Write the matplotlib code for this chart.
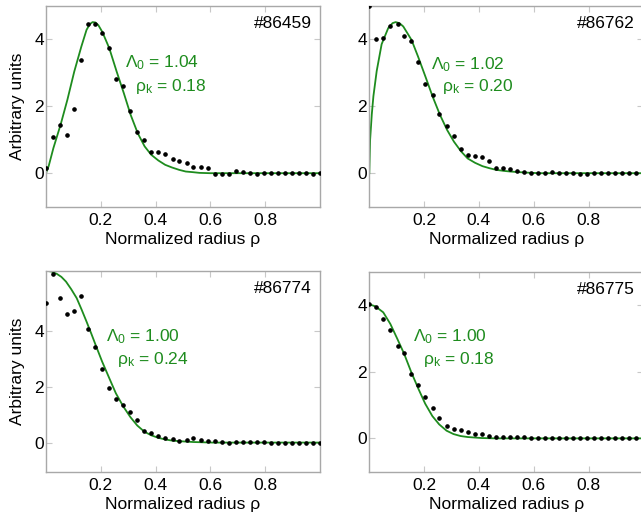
import matplotlib
matplotlib.use("Agg")
import matplotlib.pyplot as plt

plt.rcParams['font.family'] = ['Liberation Sans', 'DejaVu Sans']
plt.rcParams['mathtext.fontset'] = 'custom'
plt.rcParams['mathtext.rm'] = 'Liberation Sans'
plt.rcParams['mathtext.it'] = 'Liberation Sans'

# radial grid of the measured points
rho = [0.000, 0.026, 0.051, 0.077, 0.103, 0.128, 0.154, 0.179, 0.205, 0.231,
       0.256, 0.282, 0.308, 0.333, 0.359, 0.385, 0.410, 0.436, 0.462, 0.487,
       0.513, 0.538, 0.564, 0.590, 0.615, 0.641, 0.667, 0.692, 0.718, 0.744,
       0.769, 0.795, 0.821, 0.846, 0.872, 0.897, 0.923, 0.949, 0.974, 1.000]

# measured profiles
data_86459 = [0.15, 1.07, 1.44, 1.13, 1.93, 3.37, 4.46, 4.46, 4.19, 3.73,
              2.81, 2.61, 1.87, 1.24, 0.98, 0.64, 0.64, 0.57, 0.43, 0.37,
              0.30, 0.20, 0.18, 0.15, -0.01, -0.02, -0.02, 0.06, 0.03, 0.01,
              -0.02, 0.01, 0.01, 0.00, 0.00, 0.00, 0.00, 0.00, -0.01, 0.00]
data_86762 = [4.98, 4.01, 4.03, 4.40, 4.46, 4.09, 3.94, 3.33, 2.67, 2.32,
              1.77, 1.41, 1.12, 0.73, 0.55, 0.52, 0.47, 0.37, 0.17, 0.15,
              0.12, 0.07, 0.03, 0.02, 0.02, 0.02, 0.04, 0.02, 0.02, 0.02,
              -0.02, -0.02, 0.00, 0.00, 0.01, 0.01, 0.01, 0.01, 0.01, 0.00]
data_86774 = [5.00, 6.02, 5.18, 4.59, 4.70, 5.25, 4.06, 3.43, 2.63, 1.94,
              1.57, 1.36, 1.11, 0.79, 0.42, 0.35, 0.23, 0.18, 0.14, 0.04,
              0.08, 0.16, 0.09, 0.05, 0.04, 0.01, 0.00, 0.01, 0.02, 0.01,
              0.02, 0.01, 0.00, -0.01, -0.02, -0.01, 0.00, -0.01, -0.01, 0.00]
data_86775 = [4.02, 3.95, 3.58, 3.26, 2.76, 2.56, 1.92, 1.61, 1.25, 0.91,
              0.62, 0.38, 0.28, 0.24, 0.20, 0.13, 0.13, 0.07, 0.05, 0.05,
              0.04, 0.03, 0.03, 0.01, 0.00, 0.00, 0.00, 0.00, 0.00, 0.00,
              0.00, 0.00, 0.00, 0.00, 0.00, 0.00, 0.00, 0.00, 0.00, 0.00]

# fitted curves
fit_x_86459 = [0.0, 0.01, 0.027, 0.053, 0.078, 0.103, 0.129, 0.148, 0.16, 0.17,
               0.18, 0.191, 0.206, 0.231, 0.258, 0.284, 0.309, 0.335, 0.36, 0.384,
               0.41, 0.435, 0.46, 0.486, 0.51, 0.537, 0.56, 0.6, 1.0]
fit_y_86459 = [0.0, 0.22, 0.75, 1.44, 2.19, 3.03, 3.78, 4.28, 4.45, 4.51,
               4.50, 4.42, 4.21, 3.73, 3.03, 2.39, 1.74, 1.19, 0.80, 0.55,
               0.38, 0.25, 0.17, 0.10, 0.05, 0.03, 0.01, 0.0, 0.0]
fit_x_86762 = [0.0, 0.003, 0.009, 0.015, 0.027, 0.045, 0.069, 0.085, 0.096, 0.11,
               0.124, 0.154, 0.178, 0.205, 0.231, 0.258, 0.284, 0.309, 0.335, 0.359,
               0.386, 0.413, 0.438, 0.463, 0.49, 0.514, 0.568, 0.62, 1.0]
fit_y_86762 = [0.0, 1.0, 1.75, 2.3, 3.05, 3.85, 4.33, 4.48, 4.51, 4.48,
               4.38, 3.98, 3.48, 2.88, 2.29, 1.74, 1.29, 0.94, 0.65, 0.44,
               0.31, 0.21, 0.15, 0.10, 0.07, 0.05, 0.02, 0.0, 0.0]
fit_x_86774 = [0.0, 0.02, 0.039, 0.056, 0.073, 0.092, 0.112, 0.13, 0.148, 0.165,
               0.181, 0.205, 0.231, 0.255, 0.282, 0.308, 0.333, 0.359, 0.384, 0.41,
               0.436, 0.461, 0.487, 0.538, 0.61, 1.0]
fit_y_86774 = [6.14, 6.11, 6.03, 5.92, 5.75, 5.48, 5.16, 4.75, 4.32, 3.90,
               3.49, 2.89, 2.30, 1.76, 1.29, 0.91, 0.61, 0.39, 0.26, 0.17,
               0.11, 0.07, 0.05, 0.02, 0.0, 0.0]
fit_x_86775 = [0.0, 0.012, 0.024, 0.051, 0.077, 0.102, 0.127, 0.153, 0.179, 0.204,
               0.23, 0.255, 0.282, 0.307, 0.333, 0.359, 0.41, 0.46, 1.0]
fit_y_86775 = [4.01, 3.99, 3.95, 3.78, 3.43, 2.99, 2.54, 1.99, 1.49, 1.04,
               0.67, 0.42, 0.23, 0.13, 0.07, 0.04, 0.01, 0.0, 0.0]

shots = ['#86459', '#86762', '#86774', '#86775']
lambda0 = ['1.04', '1.02', '1.00', '1.00']
rho_k = ['0.18', '0.20', '0.24', '0.18']

green = '#1e8c1e'
frame = '#a8a8a8'

fig = plt.figure(figsize=(6.41, 5.19), dpi=100)
W, H = 641, 519
boxes = [(46, 5.7, 274, 201), (369.3, 5.7, 274, 201),
         (46, 270.7, 274, 201), (369.3, 271.7, 274, 200)]
ylims = [(-1, 5), (-1, 5), (-1.04, 6.14), (-1, 5)]
text_pos = [(0.288, 0.715, 0.325, 0.596), (0.225, 0.708, 0.264, 0.600),
            (0.219, 0.672, 0.258, 0.556), (0.158, 0.675, 0.195, 0.563)]

datas = [data_86459, data_86762, data_86774, data_86775]
fits = [(fit_x_86459, fit_y_86459), (fit_x_86762, fit_y_86762),
        (fit_x_86774, fit_y_86774), (fit_x_86775, fit_y_86775)]

for i in range(4):
    x0, y0, w, h = boxes[i]
    ax = fig.add_axes([x0 / W, (H - y0 - h) / H, w / W, h / H])
    ax.plot(fits[i][0], fits[i][1], color=green, lw=1.3, zorder=2)
    ax.plot(rho, datas[i], 'o', color='black', ms=2.3, zorder=3)
    ax.set_xlim(0, 1)
    ax.set_ylim(*ylims[i])
    ax.set_xticks([0.2, 0.4, 0.6, 0.8])
    ax.set_xticklabels(['0.2', '0.4', '0.6', '0.8'])
    ax.set_yticks([0, 2, 4])
    for s in ax.spines.values():
        s.set_color(frame)
        s.set_linewidth(1.0)
    ax.tick_params(axis='both', direction='in', length=4, color='#c8c8c8',
                   labelsize=12.5, top=True, right=True)
    ax.tick_params(axis='y', pad=1.5)
    ax.tick_params(axis='x', pad=4.5)

    ax.set_xlabel('Normalized radius ρ', fontsize=12.5)
    ax.xaxis.set_label_coords(0.5, -0.128)
    if i in (0, 2):
        ax.set_ylabel('Arbitrary units', fontsize=12.5)
        ax.yaxis.set_label_coords(-0.075, 0.5)

    ax.text(0.97, 0.91, shots[i], transform=ax.transAxes, ha='right',
            va='center', fontsize=12.5, color='black')
    tx1, ty1, tx2, ty2 = text_pos[i]
    ax.text(tx1, ty1, 'Λ$_0$ = ' + lambda0[i], transform=ax.transAxes,
            ha='left', va='center', fontsize=12.5, color=green)
    ax.text(tx2, ty2, 'ρ$_\\mathrm{k}$ = ' + rho_k[i], transform=ax.transAxes,
            ha='left', va='center', fontsize=12.5, color=green)

fig.savefig('out.png', dpi=100)
